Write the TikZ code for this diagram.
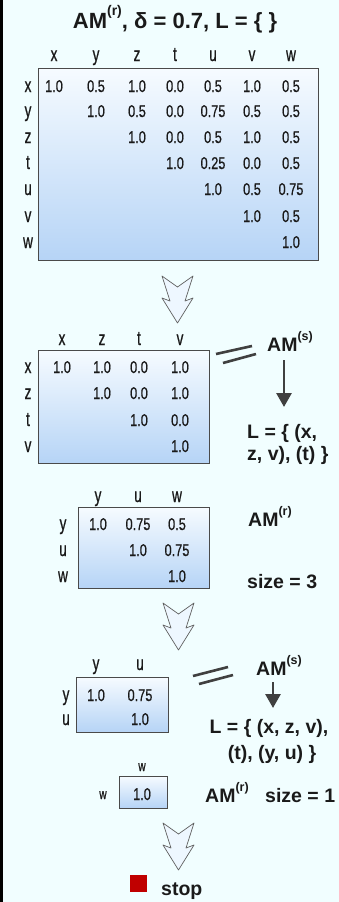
\documentclass[tikz,border=0pt]{standalone}
\usepackage{fontspec}
\setmainfont{Liberation Sans}
\newfontfamily\narrowf[FakeStretch=0.75,FakeBold=0.7]{Liberation Sans}
\newfontfamily\narrowl[FakeStretch=0.68,FakeBold=0.7]{Liberation Sans}
\usetikzlibrary{arrows.meta}
\definecolor{bgc}{HTML}{F1FEFF}
\definecolor{boxtop}{HTML}{F6FBFF}
\definecolor{boxbot}{HTML}{B6D4F6}
\definecolor{edgec}{HTML}{4A4A4A}
\definecolor{arrowc}{HTML}{404040}
\definecolor{stopred}{HTML}{C00000}
\definecolor{hfill}{HTML}{EEF7FF}
\definecolor{txt}{HTML}{1A1A1A}
\newcommand{\supr}[1]{\raisebox{0.55em}{\fontsize{12.5}{13}\selectfont #1}}
\newcommand{\suprt}[1]{\raisebox{0.55em}{\fontsize{14}{14}\selectfont #1}}
\begin{document}
\begin{tikzpicture}[x=1pt,y=-1pt,
  cell/.style={font=\narrowf\fontsize{17}{17}\selectfont, anchor=base, inner sep=0pt, text=txt},
  lcell/.style={font=\narrowl\fontsize{20}{20}\selectfont, anchor=base, inner sep=0pt, text=txt},
  smallcell/.style={font=\narrowl\fontsize{15}{15}\selectfont, anchor=base, inner sep=0pt, text=txt},
  hdr/.style={font=\bfseries\fontsize{19.5}{20}\selectfont, anchor=base west, inner sep=0pt, text=txt},
  hdrc/.style={font=\bfseries\fontsize{19.5}{20}\selectfont, anchor=base, inner sep=0pt, text=txt},
  ttl/.style={font=\bfseries\fontsize{22}{22}\selectfont, anchor=base, inner sep=0pt, text=txt},
  mbox/.style={draw=edgec, line width=0.9pt, top color=boxtop, bottom color=boxbot},
  eqbar/.style={draw=arrowc, line width=2.6pt},
  downarr/.style={draw=arrowc, line width=2.8pt, -{Triangle[width=15pt,length=14pt]}},
  harrow/.style={draw=gray!75!black, line width=0.7pt, fill=hfill, line join=round},
  hollowdown/.pic={\path[harrow] (0,0) -- (15.5,11) -- (31,0) -- (23,25) -- (31,22) -- (15.5,47) -- (0,22) -- (8,25) -- cycle;}
]
\useasboundingbox (0,0) rectangle (339,902);
\fill[bgc] (0,0) rectangle (339,902);
\draw[line width=3pt] (1.5,0) -- (1.5,902);

% title
\node[ttl] (title) at (175,28) {AM\suprt{(r)}, δ = 0.7, L = \{ \}};

% ---------- matrix 1 ----------
\path[mbox] (38,68) rectangle (318,260);
\foreach \lab/\cx [count=\i] in {x/54,y/96,z/137,t/175,u/213,v/252,w/291}
  \node[lcell] (m1c\i) at (\cx,61) {\lab};
\foreach \lab/\ry [count=\i] in {x/92,y/117,z/143,t/169,u/195,v/222,w/248}
  \node[lcell] (m1r\i) at (28,\ry) {\lab};
\foreach \v/\cx/\ry [count=\k] in {
  1.0/54/92, 0.5/96/92, 1.0/137/92, 0.0/175/92, 0.5/213/92, 1.0/252/92, 0.5/291/92,
  1.0/96/117, 0.5/137/117, 0.0/175/117, 0.75/213/117, 0.5/252/117, 0.5/291/117,
  1.0/137/143, 0.0/175/143, 0.5/213/143, 1.0/252/143, 0.5/291/143,
  1.0/175/169, 0.25/213/169, 0.0/252/169, 0.5/291/169,
  1.0/213/195, 0.5/252/195, 0.75/291/195,
  1.0/252/222, 0.5/291/222,
  1.0/291/248}
  \node[cell] (m1v\k) at (\cx,\ry) {\v};

\pic at (162,276) {hollowdown};

% ---------- matrix 2 ----------
\path[mbox] (38,350) rectangle (209,463);
\foreach \lab/\cx [count=\i] in {x/62,z/102,t/139,v/180}
  \node[lcell] (m2c\i) at (\cx,345) {\lab};
\foreach \lab/\ry [count=\i] in {x/373,z/399,t/426,v/452}
  \node[lcell] (m2r\i) at (28,\ry) {\lab};
\foreach \v/\cx/\ry [count=\k] in {
  1.0/62/373, 1.0/102/373, 0.0/139/373, 1.0/180/373,
  1.0/102/399, 0.0/139/399, 1.0/180/399,
  1.0/139/426, 0.0/180/426,
  1.0/180/452}
  \node[cell] (m2v\k) at (\cx,\ry) {\v};

\coordinate (e1a) at (216,354); \coordinate (e1b) at (252,346);
\coordinate (e1c) at (223,363); \coordinate (e1d) at (256,354);
\draw[eqbar] (e1a) -- (e1b);
\draw[eqbar] (e1c) -- (e1d);
\node[hdr] (ams1) at (267,351) {AM\supr{(s)}};
\coordinate (v1a) at (284,360); \coordinate (v1b) at (284,407);
\draw[downarr] (v1a) -- (v1b);
\node[hdr] (l1a) at (247,438) {L = \{ (x,};
\node[hdr] (l1b) at (247,460) {z, v), (t) \}};

% ---------- matrix 3 ----------
\path[mbox] (78,507) rectangle (209,588);
\foreach \lab/\cx [count=\i] in {y/98,u/138,w/177}
  \node[lcell] (m3c\i) at (\cx,502) {\lab};
\foreach \lab/\ry [count=\i] in {y/530,u/556,w/582}
  \node[lcell] (m3r\i) at (63,\ry) {\lab};
\foreach \v/\cx/\ry [count=\k] in {
  1.0/98/530, 0.75/138/530, 0.5/177/530,
  1.0/138/556, 0.75/177/556,
  1.0/177/582}
  \node[cell] (m3v\k) at (\cx,\ry) {\v};
\node[hdr] (amr3) at (248,526) {AM\supr{(r)}};
\node[hdr] (size3) at (247,588) {size = 3};

\pic at (163,603) {hollowdown};

% ---------- matrix 4 ----------
\path[mbox] (76,677) rectangle (168,732);
\foreach \lab/\cx [count=\i] in {y/96,u/140}
  \node[lcell] (m4c\i) at (\cx,670) {\lab};
\foreach \lab/\ry [count=\i] in {y/701,u/725}
  \node[lcell] (m4r\i) at (66,\ry) {\lab};
\foreach \v/\cx/\ry [count=\k] in {1.0/96/701, 0.75/140/701, 1.0/140/725}
  \node[cell] (m4v\k) at (\cx,\ry) {\v};

\coordinate (e2a) at (193,676); \coordinate (e2b) at (228,667);
\coordinate (e2c) at (199,684); \coordinate (e2d) at (233,675);
\draw[eqbar] (e2a) -- (e2b);
\draw[eqbar] (e2c) -- (e2d);
\node[hdr] (ams2) at (256,675) {AM\supr{(s)}};
\coordinate (v2a) at (273,682); \coordinate (v2b) at (273,708);
\draw[downarr] (v2a) -- (v2b);
\node[hdrc] (l2a) at (269,733) {L = \{ (x, z, v),};
\node[hdrc] (l2b) at (272,759) {(t), (y, u) \}};

% ---------- matrix 5 ----------
\path[mbox] (119,776) rectangle (167,808);
\node[smallcell] (m5c1) at (142,771) {w};
\node[smallcell] (m5r1) at (103,799) {w};
\node[cell] (m5v1) at (142,800) {1.0};
\node[hdr] (amr5) at (205,802) {AM\supr{(r)}};
\node[hdr] (size5) at (265,802) {size = 1};

\pic at (163,823) {hollowdown};

% stop
\fill[stopred] (130,875) rectangle (147,892);
\node[hdr] (stop) at (161,895) {stop};
\end{tikzpicture}
\end{document}
